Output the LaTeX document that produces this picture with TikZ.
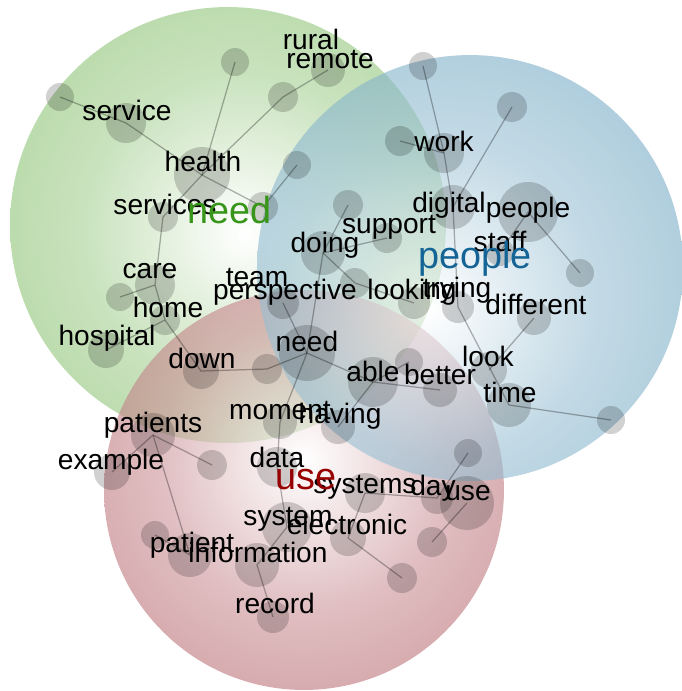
\documentclass[tikz,border=0pt]{standalone}
\usepackage{fontspec}
\setmainfont{Liberation Sans}

\definecolor{needgreen}{RGB}{82,164,46}
\definecolor{peopleblue}{RGB}{64,137,173}
\definecolor{usered}{RGB}{155,46,55}
\definecolor{needtext}{RGB}{55,150,25}
\definecolor{peopletext}{RGB}{20,100,150}
\definecolor{usetext}{RGB}{150,0,0}

% soft balls, white in the middle
\pgfdeclareradialshading{needball}{\pgfpoint{2bp}{-1bp}}{color(0bp)=(white); color(18bp)=(needgreen!50!white); color(50bp)=(needgreen); color(70bp)=(needgreen)}
\pgfdeclareradialshading{peopleball}{\pgfpoint{-5bp}{-5bp}}{color(0bp)=(white); color(18bp)=(peopleblue!50!white); color(50bp)=(peopleblue); color(70bp)=(peopleblue)}
\pgfdeclareradialshading{useball}{\pgfpoint{0bp}{4bp}}{color(0bp)=(white); color(18bp)=(usered!50!white); color(50bp)=(usered); color(70bp)=(usered)}

\tikzset{
  dot/.style={circle, fill=black, fill opacity=0.18, inner sep=0pt},
  link/.style={draw=black, draw opacity=0.3, line width=0.7pt},
  word/.style={font=\fontsize{16}{16}\selectfont, inner sep=0pt, text height=11.5pt, text depth=3.4pt},
  topic/.style={font=\fontsize{21.5}{21.5}\selectfont, inner sep=0pt, text height=15.5pt, text depth=4.5pt}
}

\begin{document}
\begin{tikzpicture}[x=0.02cm, y=-0.02cm]
  \useasboundingbox (0,0) rectangle (682,691);

  % the three topic circles
  \shade[shading=needball, opacity=0.62] (228,225) circle[radius=4.36cm];
  \shade[shading=useball, opacity=0.62] (304,490) circle[radius=4.0cm];
  \shade[shading=peopleball, opacity=0.62] (470,268) circle[radius=4.26cm];

  % dots: need
  \node[dot, minimum size=0.56cm] (d-top) at (235,62) {};
  \node[dot, minimum size=0.56cm] (d-left) at (60,97) {};
  \node[dot, minimum size=0.8cm] (d-service) at (126,123) {};
  \node[dot, minimum size=0.6cm] (d-rm) at (283,97) {};
  \node[dot, minimum size=0.68cm] (d-remote) at (328,70) {};
  \node[dot, minimum size=1.12cm] (d-health) at (202,175) {};
  \node[dot, minimum size=0.6cm] (d-hn) at (263,207) {};
  \node[dot, minimum size=0.56cm] (d-hn2) at (297,165) {};
  \node[dot, minimum size=0.6cm] (d-services) at (163,217) {};
  \node[dot, minimum size=0.8cm] (d-care) at (155,285) {};
  \node[dot, minimum size=0.56cm] (d-cr) at (120,297) {};
  \node[dot, minimum size=0.6cm] (d-home) at (165,320) {};
  \node[dot, minimum size=0.72cm] (d-hospital) at (106,350) {};
  \node[dot, minimum size=0.72cm] (d-down) at (201,371) {};
  \node[dot, minimum size=0.6cm] (d-dn) at (267,369) {};
  \node[dot, minimum size=1.12cm] (d-need) at (307,353) {};
  \node[dot, minimum size=0.64cm] (d-perspective) at (283,303) {};
  \node[dot, minimum size=0.88cm] (d-doing) at (323,253) {};
  \node[dot, minimum size=0.6cm] (d-dg) at (348,205) {};
  \node[dot, minimum size=0.6cm] (d-support) at (387,238) {};
  \node[dot, minimum size=0.6cm] (d-dl) at (355,283) {};
  \node[dot, minimum size=0.64cm] (d-looking) at (414,303) {};

  % dots: people
  \node[dot, minimum size=0.6cm] (d-wl) at (400,141) {};
  \node[dot, minimum size=0.8cm] (d-work) at (444,153) {};
  \node[dot, minimum size=0.56cm] (d-wt) at (423,66) {};
  \node[dot, minimum size=0.6cm] (d-dt) at (512,107) {};
  \node[dot, minimum size=0.88cm] (d-digital) at (453,207) {};
  \node[dot, minimum size=1.2cm] (d-people) at (528,212) {};
  \node[dot, minimum size=0.56cm] (d-staff) at (500,252) {};
  \node[dot, minimum size=0.56cm] (d-pr) at (580,273) {};
  \node[dot, minimum size=0.64cm] (d-trying) at (458,307) {};
  \node[dot, minimum size=0.68cm] (d-different) at (534,318) {};
  \node[dot, minimum size=0.72cm] (d-look) at (489,370) {};
  \node[dot, minimum size=0.88cm] (d-time) at (509,405) {};
  \node[dot, minimum size=0.56cm] (d-tr) at (611,420) {};
  \node[dot, minimum size=1.0cm] (d-able) at (373,382) {};
  \node[dot, minimum size=0.56cm] (d-ab) at (409,362) {};
  \node[dot, minimum size=0.68cm] (d-better) at (440,390) {};

  % dots: use
  \node[dot, minimum size=0.68cm] (d-moment) at (280,422) {};
  \node[dot, minimum size=0.68cm] (d-having) at (338,427) {};
  \node[dot, minimum size=0.8cm] (d-data) at (277,467) {};
  \node[dot, minimum size=0.88cm] (d-patients) at (153,435) {};
  \node[dot, minimum size=0.6cm] (d-pt) at (212,465) {};
  \node[dot, minimum size=0.72cm] (d-example) at (112,472) {};
  \node[dot, minimum size=0.88cm] (d-patient) at (190,555) {};
  \node[dot, minimum size=0.56cm] (d-pl) at (155,535) {};
  \node[dot, minimum size=0.88cm] (d-information) at (257,565) {};
  \node[dot, minimum size=0.64cm] (d-record) at (273,617) {};
  \node[dot, minimum size=1.0cm] (d-system) at (287,527) {};
  \node[dot, minimum size=0.8cm] (d-systems) at (365,493) {};
  \node[dot, minimum size=0.72cm] (d-electronic) at (348,538) {};
  \node[dot, minimum size=0.6cm] (d-el) at (402,578) {};
  \node[dot, minimum size=0.64cm] (d-day) at (437,498) {};
  \node[dot, minimum size=0.56cm] (d-dy) at (468,453) {};
  \node[dot, minimum size=1.08cm] (d-use) at (467,503) {};
  \node[dot, minimum size=0.6cm] (d-us) at (432,542) {};

  % links
  \draw[link] (d-left.center) -- (d-service.center) -- (d-health.center) -- (d-hn.center);
  \draw[link] (d-health.center) -- (d-top.center);
  \draw[link] (d-health.center) -- (d-rm.center) -- (d-remote.center);
  \draw[link] (d-hn2.center) -- (d-hn.center);
  \draw[link] (d-health.center) -- (d-services.center) -- (d-care.center) -- (d-cr.center);
  \draw[link] (d-care.center) -- (d-home.center) -- (d-hospital.center);
  \draw[link] (d-home.center) -- (d-down.center) -- (d-dn.center) -- (d-need.center);
  \draw[link] (d-need.center) -- (d-doing.center) -- (d-dg.center);
  \draw[link] (d-doing.center) -- (d-support.center);
  \draw[link] (d-doing.center) -- (d-dl.center) -- (d-looking.center);
  \draw[link] (d-perspective.center) -- (d-need.center) -- (d-able.center);
  \draw[link] (d-need.center) -- (d-moment.center) -- (d-data.center);
  \draw[link] (d-ab.center) -- (d-able.center) -- (d-better.center);
  \draw[link] (d-able.center) -- (d-having.center);
  \draw[link] (d-wt.center) -- (d-work.center) -- (d-digital.center);
  \draw[link] (d-wl.center) -- (d-work.center);
  \draw[link] (d-dt.center) -- (d-digital.center) -- (d-trying.center) -- (d-time.center) -- (d-tr.center);
  \draw[link] (d-staff.center) -- (d-people.center) -- (d-pr.center);
  \draw[link] (d-different.center) -- (d-look.center);
  \draw[link] (d-example.center) -- (d-patients.center) -- (d-pt.center);
  \draw[link] (d-patients.center) -- (d-patient.center) -- (d-pl.center);
  \draw[link] (d-data.center) -- (d-system.center) -- (d-information.center) -- (d-record.center);
  \draw[link] (d-systems.center) -- (d-electronic.center) -- (d-el.center);
  \draw[link] (d-systems.center) -- (d-day.center) -- (d-dy.center);
  \draw[link] (d-use.center) -- (d-us.center);

  % words
  \node[word] (rural) at (311,42) {rural};
  \node[word] (remote) at (330,61) {remote};
  \node[word] (service) at (127,113) {service};
  \node[word] (health) at (203,164) {health};
  \node[word] (services) at (165,207) {services};
  \node[word] (care) at (150,271) {care};
  \node[word] (home) at (168,310) {home};
  \node[word] (hospital) at (107,338) {hospital};
  \node[word] (down) at (202,361) {down};
  \node[word] (team) at (257,279) {team};
  \node[word] (perspective) at (285,292) {perspective};
  \node[word] (doing) at (325,245) {doing};
  \node[word] (support) at (389,226) {support};
  \node[word] (looking) at (412,292) {looking};
  \node[word] (work) at (444,144) {work};
  \node[word] (digital) at (449,205) {digital};
  \node[word] (people) at (528,210) {people};
  \node[word] (staff) at (500,244) {staff};
  \node[word] (trying) at (457,290) {trying};
  \node[word] (different) at (536,307) {different};
  \node[word] (need) at (307,344) {need};
  \node[word] (able) at (373,374) {able};
  \node[word] (better) at (440,377) {better};
  \node[word] (look) at (488,359) {look};
  \node[word] (time) at (510,395) {time};
  \node[word] (moment) at (280,412) {moment};
  \node[word] (having) at (340,416) {having};
  \node[word] (patients) at (153,425) {patients};
  \node[word] (example) at (111,462) {example};
  \node[word] (data) at (277,460) {data};
  \node[word] (systems) at (365,486) {systems};
  \node[word] (day) at (433,488) {day};
  \node[word] (use) at (468,493) {use};
  \node[word] (system) at (288,518) {system};
  \node[word] (electronic) at (347,527) {electronic};
  \node[word] (patient) at (192,545) {patient};
  \node[word] (information) at (258,555) {information};
  \node[word] (record) at (275,606) {record};

  % topic labels
  \node[topic, text=needtext] (t-need) at (230,214) {need};
  \node[topic, text=peopletext] (t-people) at (475,259) {people};
  \node[topic, text=usetext] (t-use) at (306,480) {use};
\end{tikzpicture}
\end{document}
